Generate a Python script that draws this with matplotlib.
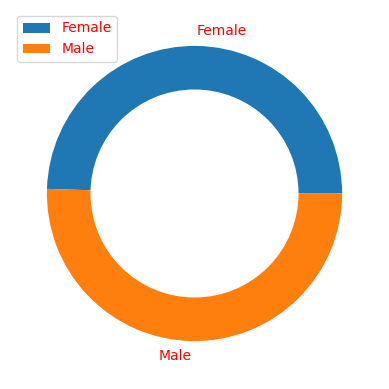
import matplotlib
matplotlib.use("Agg")
import matplotlib.pyplot as plt

labels = ["Female", "Male"]
counts = [49.5, 50.5]
colors = ["#1f77b4", "#ff7f0e"]

fig = plt.figure(figsize=(3.89, 3.89), dpi=100)
ax = fig.add_axes([10 / 389, 11 / 389, 369 / 389, 369 / 389])
wedges, texts = ax.pie(counts, labels=labels, colors=colors, textprops={"color": "red"})
ax.add_artist(plt.Circle((0, 0), 0.7, color="white"))
leg = ax.legend(wedges, labels, loc="upper left")
for t in leg.get_texts():
    t.set_color("red")
ax.set_xlim(-1.25, 1.25)
ax.set_ylim(-1.25, 1.25)
ax.set_aspect("equal")
plt.savefig("out.png", dpi=100)
